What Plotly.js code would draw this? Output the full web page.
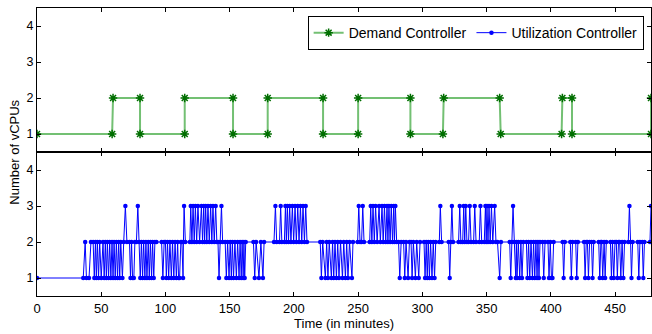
<!DOCTYPE html>
<html><head><meta charset="utf-8">
<script src="https://cdn.plot.ly/plotly-3.0.1.min.js"></script>
<style>html,body{margin:0;padding:0;background:#fff}#chart{width:652px;height:334px}</style>
</head><body><div id="chart"></div>
<script>
// Demand Controller (top panel)
const demandTime = [0, 58.5, 59.2, 80.2, 80.2, 115, 115, 152.6, 152.6, 179.6, 179.6, 222.7, 222.7, 250, 250, 290.7, 290.7, 316, 316.6, 360.2, 361, 408.4, 409, 416.5, 416.5, 478, 478];
const demandVcpu = [1, 1, 2, 2, 1, 1, 2, 2, 1, 1, 2, 2, 1, 1, 2, 2, 1, 1, 2, 2, 1, 1, 2, 2, 1, 1, 2];

// Utilization Controller (bottom panel)
const utilTime = [
  0, 36, 37.5, 38.5, 40.5, 42,
  43.7,44.6,45.5,46.2,47,47.9,48.8,50,51.4,52.3,53.2,54,54.8,55.7,56.6,57.5,58.4,59.2,60,60.9,61.8,62.7,63.6,64.4,65.2,66.5,67.5,
  68.8,70,72,72.8,73.6,74.4,75.4,76.2,77.4,78.5,79.6,80.4,81.3,82.2,83,84,84.8,85.6,86.6,87.4,88.3,89.2,90,90.9,91.8,93,
  97,98,99,100,100.7,101.6,102.5,103.5,104.6,105.5,106.5,107.5,108.5,109.5,110.2,111,112,112.8,113.7,114,114.5,
  115.5,119,119.7,120.6,121.5,122.4,123.3,124.3,125.3,126.6,128,128.9,129.8,130.5,131.3,132.2,133.1,134.1,135.2,136.1,137,138,139.1,140,140.9,141.7,142.6,143.6,144.5,
  146.5,147.4,148.4,149.5,150.4,151.3,152.1,153,154.1,155.2,156.2,157.3,158.1,159,159.7,160.5,161.1,161.7,162.5,
  168.5,169.5,170.6,172.8,174.3,175.9,176.8,
  184.5,185.6,186.6,188.8,189.7,190.6,192.6,193.4,194.1,194.9,195.8,196.7,197.7,198.8,199.8,200.9,201.9,203,204,205.1,206.1,207.1,208.2,209.2,210.2,
  220.5,221.4,222.4,224.5,225.5,226.5,227.5,229.2,230.1,231,232,233.1,234.1,235.1,236.3,237.8,238.8,240.1,241.1,242.1,243.3,245.2,246,
  249.6,250.5,251.5,252.7,253.6,254.6,
  259,259.8,260.7,261.6,262.6,263.6,264.8,266.3,267.3,268.6,269.5,270.5,271.5,272.5,273.2,274,274.9,275.8,276.8,277.7,278.3,279,280,
  281.5,282.4,283.5,285.4,286.3,287.3,288.9,289.9,291.2,292,293,294.6,295.6,297.2,298.2,301.3,302.1,303,303.8,304.6,305.5,306.4,307.5,308.5,309.5,310.4,
  313.2,314,315,320.5,321.3,322.2,323,323.9,
  328.2,329.1,330,331.4,332.2,333,333.8,334.7,336,336.9,337.9,339.9,340.8,341.8,344.3,345.2,346.2,348.2,349.1,349.7,350.3,351.1,351.9,352.8,353.8,354.8,356.3,357.3,
  358.5,360.2,361.2,368,368.8,369.7,370.6,371.6,372.7,373.2,373.7,374.7,375.8,376.7,377.6,378.6,381,381.8,382.7,383.6,384.6,385.7,386.6,387.5,388.4,389.3,390,390.8,391.6,393.6,394.5,395.5,397.8,398.6,399.6,400.5,401.3,402.2,
  409.2,410,410.9,415.2,416,416.9,419.4,420.2,421.1,425.9,426.7,427.6,428.5,429.3,430.2,431.7,432.5,433.4,437.3,438.1,439,439.6,440.4,441.5,442.3,443.2,446.4,447.2,448,449,450,451,451.8,452.7,453.6,454.5,455.5,456.5,457.4,460.3,461.2,462.1,462.8,463.7,467.7,468.5,469.4,471.2,472,472.9,477.2,478
];
const utilVcpu = [
  1, 1, 2, 1, 1, 2,
  2,1,2,1,2,1,2,1,2,1,2,1,2,1,2,1,2,1,2,1,2,1,2,1,2,1,2,
  3,2,2,1,2,1,1,2,2,3,2,1,2,1,2,1,2,1,2,1,2,1,2,1,2,2,
  2,1,2,2,1,2,1,2,1,2,1,2,1,2,1,1,2,2,1,2,3,
  2,2,3,2,3,2,3,2,3,2,3,2,3,2,3,2,3,2,3,2,3,2,3,2,2,1,2,3,2,
  2,1,2,1,2,1,2,1,2,1,2,1,2,1,2,1,2,1,2,
  2,1,2,1,2,1,2,
  2,3,2,2,3,2,2,3,2,3,2,3,2,3,2,3,2,3,2,3,2,3,2,3,2,
  2,1,2,1,2,1,2,1,2,1,2,1,2,1,2,1,2,1,2,1,2,1,2,
  2,3,2,2,3,2,
  2,3,2,3,2,3,2,3,2,3,2,3,2,3,2,3,2,3,2,3,2,3,2,
  2,1,2,2,1,2,1,2,2,1,2,1,2,1,2,2,1,2,1,2,1,2,1,2,1,2,
  2,3,2,2,1,2,3,2,
  2,3,2,2,3,2,3,2,2,3,2,2,3,2,2,3,2,2,3,2,3,2,3,2,3,2,3,2,
  2,1,2,2,1,2,3,2,1,2,1,2,1,2,1,2,2,1,2,1,2,1,2,1,2,1,2,1,2,2,1,2,2,1,2,1,1,2,
  2,1,2,2,1,2,2,1,2,2,1,2,2,1,2,2,1,2,2,1,2,2,1,2,1,2,2,1,2,1,2,2,1,2,2,1,2,1,2,2,3,2,1,2,2,1,2,2,1,2,2,3
];

const xTickVals = [0, 50, 100, 150, 200, 250, 300, 350, 400, 450];
const yTickVals = [1, 2, 3, 4];
const seriesNames = ['Demand Controller', 'Utilization Controller'];
const axisTitles = {x: 'Time (in minutes)', y: 'Number of vCPUs'};

const FONT = 'Liberation Sans, Arial, Helvetica, sans-serif';

const traces = [
  {
    x: demandTime, y: demandVcpu, xaxis: 'x2', yaxis: 'y2',
    type: 'scatter', mode: 'lines+markers', name: seriesNames[0],
    line: {color: 'rgba(0,140,0,0.55)', width: 2},
    marker: {symbol: 'asterisk-open', size: 7, color: '#006e00', line: {color: '#006e00', width: 1.5}}
  },
  {
    x: utilTime, y: utilVcpu, xaxis: 'x', yaxis: 'y',
    type: 'scatter', mode: 'lines+markers', name: seriesNames[1],
    line: {color: '#0000ff', width: 1},
    marker: {symbol: 'circle', size: 4.5, color: '#0000ff'}
  }
];

const yAxisCommon = {
  range: [0.5, 4.5], tickvals: yTickVals, ticks: 'inside', ticklen: 4, tickcolor: '#000',
  showline: true, linecolor: '#000', linewidth: 1, mirror: 'ticks', showgrid: false, zeroline: false,
  tickfont: {family: FONT, size: 12.5, color: '#000'}
};
const xAxisCommon = {
  range: [0, 478], tickvals: xTickVals, ticks: 'inside', ticklen: 4, tickcolor: '#000',
  showline: true, linecolor: '#000', linewidth: 1, mirror: 'ticks', showgrid: false, zeroline: false,
  tickfont: {family: FONT, size: 13, color: '#000'}
};

const layout = {
  width: 652, height: 334,
  margin: {l: 37, r: 1, t: 8, b: 38},
  paper_bgcolor: '#fff', plot_bgcolor: '#fff',
  font: {family: FONT, size: 13, color: '#000'},
  showlegend: true,
  legend: {
    orientation: 'h', x: 0.988, y: 0.972, xanchor: 'right', yanchor: 'top',
    bordercolor: '#000', borderwidth: 1, bgcolor: '#fff',
    font: {family: FONT, size: 14, color: '#000'}
  },
  xaxis: Object.assign({}, xAxisCommon, {anchor: 'y', domain: [0, 1],
    title: {text: axisTitles.x, font: {family: FONT, size: 13, color: '#000'}, standoff: 2}}),
  xaxis2: Object.assign({}, xAxisCommon, {anchor: 'y2', matches: 'x', showticklabels: false, domain: [0, 1]}),
  yaxis: Object.assign({}, yAxisCommon, {anchor: 'x', domain: [0, 0.5]}),
  yaxis2: Object.assign({}, yAxisCommon, {anchor: 'x2', domain: [0.5, 1]}),
  annotations: [{
    text: axisTitles.y, xref: 'paper', yref: 'paper', x: -0.038, y: 0.5,
    xanchor: 'center', yanchor: 'middle', textangle: -90, showarrow: false,
    font: {family: FONT, size: 13, color: '#000'}
  }]
};

Plotly.newPlot('chart', traces, layout, {staticPlot: true, displayModeBar: false});
</script>
</body></html>
